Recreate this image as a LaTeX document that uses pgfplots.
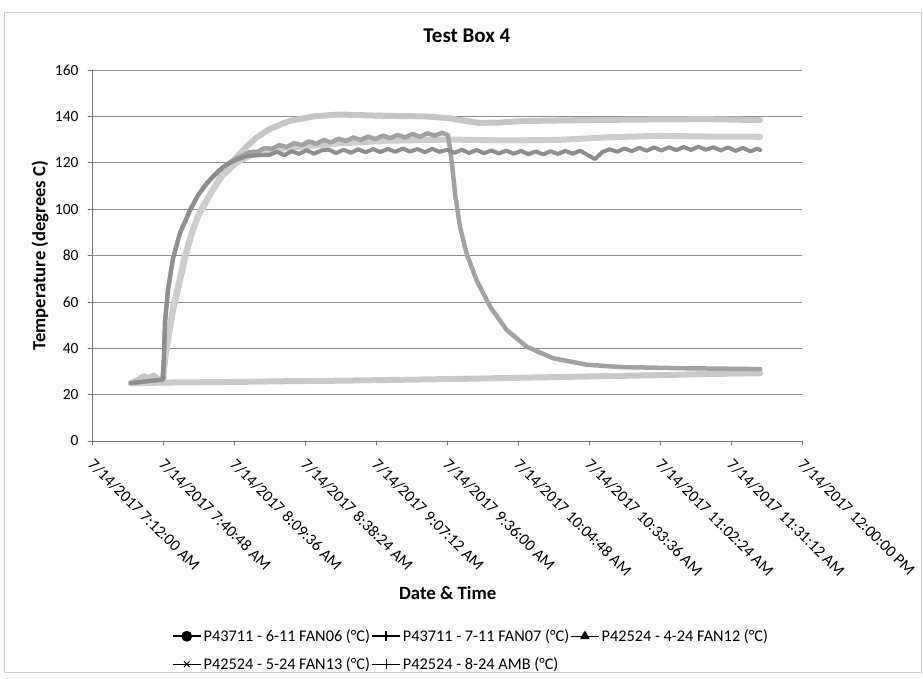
\documentclass[border=0pt]{standalone}
\usepackage{pgfplots}
\pgfplotsset{compat=1.18}
\usepackage{fontspec}
\setmainfont{Carlito}
\definecolor{gA}{HTML}{C6C6C6}
\definecolor{gC}{HTML}{CDCDCD}
\definecolor{gAmb}{HTML}{C9C9C9}
\definecolor{gB}{HTML}{A2A2A2}
\definecolor{gD}{HTML}{8E8E8E}
\begin{document}
\begin{tikzpicture}
\path[use as bounding box] (-92pt,-238pt) rectangle (831pt,441pt);
\draw[black!18, line width=0.8pt] (-88pt,-231pt) rectangle (829pt,429pt);
\begin{axis}[
  at={(0pt,0pt)}, anchor=south west,
  scale only axis, width=710pt, height=371pt,
  xmin=0, xmax=288, ymin=0, ymax=160,
  axis lines*=left,
  axis line style={black!55, line width=0.7pt},
  xtick={0,28.8,57.6,86.4,115.2,144,172.8,201.6,230.4,259.2,288},
  xticklabels={7/14/2017 7:12:00 AM,7/14/2017 7:40:48 AM,7/14/2017 8:09:36 AM,7/14/2017 8:38:24 AM,7/14/2017 9:07:12 AM,7/14/2017 9:36:00 AM,7/14/2017 10:04:48 AM,7/14/2017 10:33:36 AM,7/14/2017 11:02:24 AM,7/14/2017 11:31:12 AM,7/14/2017 12:00:00 PM},
  ytick={0,20,...,160},
  /pgf/number format/assume math mode=true,
  tick align=outside, major tick length=4pt,
  tick style={black!55, line width=0.7pt},
  ymajorgrids, grid style={black!45, line width=0.7pt},
  yticklabel style={font=\fontsize{15.5}{18}\selectfont, xshift=-6pt},
  xticklabel style={font=\fontsize{16.2}{19}\selectfont, xshift=3pt, yshift=-12pt, rotate=-45, anchor=north west, inner sep=0pt},
  title={\bfseries Test Box 4},
  title style={font=\fontsize{21}{25}\selectfont, at={(axis description cs:0.528,1.076)}, anchor=center},
  xlabel={\bfseries Date \& Time},
  xlabel style={font=\fontsize{18.8}{22}\selectfont, at={(axis description cs:0.501,-0.41)}, anchor=center},
  ylabel={\bfseries Temperature (degrees C)},
  ylabel style={font=\fontsize{18.6}{22}\selectfont, at={(axis description cs:-0.073,0.5)}, anchor=center, rotate=0},
  legend columns=3,
  legend cell align=left,
  legend style={at={(axis description cs:0.533,-0.505)}, anchor=north, draw=none, fill=none,
    font=\fontsize{16.3}{19}\selectfont, row sep=12.5pt, inner sep=0pt,
    nodes={inner sep=1pt},
    /tikz/every odd column/.append style={column sep=1pt}},
  legend image code/.code={\draw[mark repeat=2,mark phase=2] plot coordinates {(0pt,0pt) (14pt,0pt) (28pt,0pt)};},
  line join=round, line cap=round,
]
% ambient
\addplot[gAmb, line width=6pt, forget plot] coordinates {
(15.8,24.8) (20,25.0) (28.8,25.2) (40,25.3) (60,25.5) (80,25.8) (100,26.0) (120,26.3) (144,26.7) (170,27.2) (200,27.8) (230,28.4) (250,28.9) (271,29.2)};
% FAN12 (top light)
\addplot[gA, line width=6pt, forget plot] coordinates {
(15.8,25) (19,26.5) (21,28) (23,27) (25,28.2) (27,26.5) (28.8,26) (29.3,32) (30,38) (31,45) (33,57) (35,66) (37.5,78) (40,88) (43,97) (46.7,104) (50,110) (53,115.5) (56.5,120) (60,124) (63.5,127.8) (67,131) (72,134.5) (80,138) (90,140) (100,140.8) (110,140.5) (120,140.2) (135,140) (145,139.2) (150,138.3) (157,137.2) (165,137.3) (175,138) (200,138.4) (230,138.7) (250,138.8) (271,138.4)};
% FAN13 (second light)
\addplot[gC, line width=6pt, forget plot] coordinates {
(15.8,25) (28.8,26) (29.5,35) (31,46) (33,58) (35,67) (37.5,79) (40,88) (43,97) (46.7,104.5) (50,110) (53,114.5) (57,118.5) (60,121) (65,123.5) (70,125) (80,126.5) (100,128.3) (120,129.5) (145,130) (170,129.6) (190,129.9) (210,131) (230,131.6) (250,131.3) (271,131.2)};
% FAN06 (drops)
\addplot[gB, line width=4.5pt, forget plot] coordinates {
(15.8,25) (28.8,26.5) (29.3,40) (29.6,51) (30.8,65) (32.9,79) (35.7,89.7) (39.8,99.6) (43,106) (46.7,111.3) (50,115) (53,118) (55,119.5) (58,121.5) (61,123.0) (64,124.6) (67,124.7) (70,126.3) (73,126.0) (76,127.6) (79,126.8) (82,128.5) (85,127.6) (88,129.2) (91,128.2) (94,129.8) (97,128.8) (100,130.4) (103,129.4) (106,130.9) (109,129.8) (112,131.3) (115,130.2) (118,131.7) (121,130.6) (124,132.0) (127,130.9) (130,132.4) (133,131.2) (136,132.7) (139,131.7) (142,132.9) (144.3,132) (145.1,127) (145.9,120.7) (147.3,106.4) (149.3,92.1) (152,80.7) (156,69.3) (161.5,57.9) (168.2,47.9) (176.3,40.7) (187,35.7) (200.7,32.9) (214.2,31.9) (238.5,31.4) (271,31.0)};
% FAN07 (dark noisy)
\addplot[gD, line width=4pt, forget plot] coordinates {
(15.8,25) (28.8,26.5) (29.3,40) (29.6,51) (30.8,65) (32.9,79) (35.7,89.7) (39.8,99.6) (43,106) (46.7,111.3) (50,115) (53,118) (56,120) (60,121.8) (63,122.9) (66,123.1) (69,123.3) (72,123.4) (75,124.7) (78,123.3) (81,125.0) (84,123.8) (87,125.4) (90,123.9) (93,125.3) (96,125.7) (99,124.2) (102,125.6) (105,124.3) (108,125.8) (111,124.5) (114,125.9) (117,124.6) (120,126.0) (123,124.7) (126,126.1) (129,124.8) (132,125.9) (135,124.5) (138,126.0) (141,124.7) (144,125.6) (147,124.3) (150,125.6) (153,124.2) (156,125.5) (159,124.1) (162,125.3) (165,124.0) (168,125.2) (171,123.9) (174,125.1) (177,123.7) (180,124.9) (183,123.6) (186,125.0) (189,123.8) (192,125.1) (195,123.9) (198,125.2) (201,123.4) (204,121.6) (207,124.6) (210,125.8) (213,124.7) (216,126.2) (219,125.0) (222,126.4) (225,125.2) (228,126.6) (231,125.3) (234,126.7) (237,125.4) (240,126.8) (243,125.5) (246,126.9) (249,125.6) (252,126.7) (255,125.3) (258,126.6) (261,125.1) (264,126.4) (267,124.9) (270,126.1) (271,125.5)};
\addlegendimage{black, line width=1.8pt, mark=*, mark size=4.5pt}
\addlegendentry{P43711 - 6-11 FAN06 (°C)}
\addlegendimage{black, line width=1.8pt, mark=|, mark size=5pt, mark options={line width=1.2pt}}
\addlegendentry{P43711 - 7-11 FAN07 (°C)}
\addlegendimage{black, line width=1.4pt, mark=triangle*, mark size=4.5pt}
\addlegendentry{P42524 - 4-24 FAN12 (°C)}
\addlegendimage{black, line width=0.9pt, mark=x, mark size=4pt}
\addlegendentry{P42524 - 5-24 FAN13 (°C)}
\addlegendimage{black, line width=0.7pt, mark=+, mark size=5pt}
\addlegendentry{P42524 - 8-24 AMB (°C)}
\end{axis}
\end{tikzpicture}
\end{document}
